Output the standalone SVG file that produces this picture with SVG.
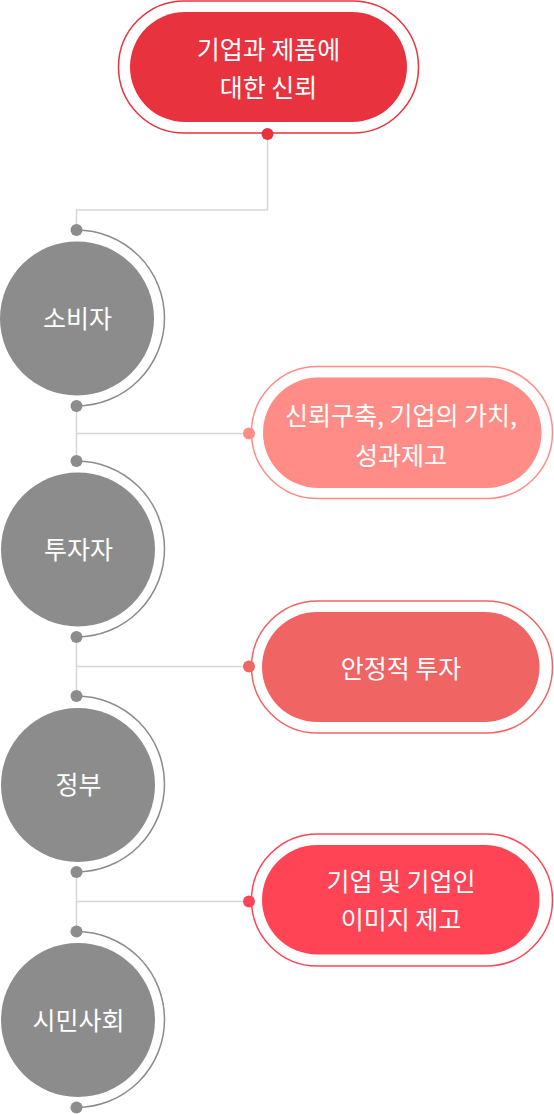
<svg xmlns="http://www.w3.org/2000/svg" width="554" height="1114" viewBox="0 0 554 1114">
<style>
text{font-family:"Noto Sans CJK KR","Noto Sans",sans-serif;font-size:25px;fill:#fff;text-anchor:middle}
.conn{fill:none;stroke:#d6d6d6;stroke-width:1.5}
.arc{fill:none;stroke:#8c8c8c;stroke-width:1.5}
.gd{fill:#8c8c8c}
.gc{fill:#8c8c8c}
</style>
<rect width="554" height="1114" fill="#fff"/>
<g id="connectors">
<polyline class="conn" points="267.5,134 267.5,210 76.5,210 76.5,230"/>
<line class="conn" x1="76.5" y1="406" x2="76.5" y2="461"/>
<line class="conn" x1="76.5" y1="433.5" x2="249" y2="433.5"/>
<line class="conn" x1="76.5" y1="637" x2="76.5" y2="696"/>
<line class="conn" x1="76.5" y1="666.5" x2="249" y2="666.5"/>
<line class="conn" x1="76.5" y1="872" x2="76.5" y2="931.5"/>
<line class="conn" x1="76.5" y1="901.5" x2="249" y2="901.5"/>
</g>
<g id="top">
<rect x="118.5" y="1" width="300" height="132" rx="66" fill="none" stroke="#e8333f" stroke-width="1.5"/>
<rect x="130" y="12" width="277" height="110" rx="55" fill="#e8333f"/>
<circle cx="267.5" cy="134" r="6" fill="#e8333f"/>
<text x="268.5" y="58.5">기업과 제품에</text>
<text x="268.5" y="97">대한 신뢰</text>
</g>
<g id="consumer">
<circle class="gc" cx="77" cy="318.5" r="77"/>
<path class="arc" d="M76.5,230 A88,88 0 0 1 76.5,406"/>
<circle class="gd" cx="76.5" cy="230" r="6"/>
<circle class="gd" cx="76.5" cy="406" r="6"/>
<text x="77.5" y="327.5">소비자</text>
</g>
<g id="investor">
<circle class="gc" cx="78" cy="549.5" r="77"/>
<path class="arc" d="M76.5,461 A88,88 0 0 1 76.5,637"/>
<circle class="gd" cx="76.5" cy="461" r="6"/>
<circle class="gd" cx="76.5" cy="637" r="6"/>
<text x="78.5" y="559">투자자</text>
</g>
<g id="government">
<circle class="gc" cx="78" cy="785" r="77"/>
<path class="arc" d="M76.5,696 A88,88 0 0 1 76.5,872"/>
<circle class="gd" cx="76.5" cy="696" r="6"/>
<circle class="gd" cx="76.5" cy="872" r="6"/>
<text x="78.5" y="794">정부</text>
</g>
<g id="civil">
<circle class="gc" cx="78" cy="1020" r="77"/>
<path class="arc" d="M76.5,931.5 A88,88 0 0 1 76.5,1107.5"/>
<circle class="gd" cx="76.5" cy="931.5" r="6"/>
<circle class="gd" cx="76.5" cy="1107.5" r="6"/>
<text x="78.5" y="1029.5">시민사회</text>
</g>
<g id="trust">
<rect x="251.5" y="366.5" width="301" height="132" rx="66" fill="none" stroke="#ff8c86" stroke-width="1.5"/>
<rect x="263" y="377.5" width="278.5" height="110.5" rx="55" fill="#ff8c86"/>
<circle cx="249" cy="433.5" r="6" fill="#ff8c86"/>
<text x="401" y="425">신뢰구축, 기업의 가치,</text>
<text x="401" y="464.5">성과제고</text>
</g>
<g id="investment">
<rect x="251.5" y="601" width="301" height="132" rx="66" fill="none" stroke="#f06464" stroke-width="1.5"/>
<rect x="262" y="612" width="277.5" height="110" rx="55" fill="#f06464"/>
<circle cx="249" cy="666.5" r="6" fill="#f06464"/>
<text x="401" y="677.5">안정적 투자</text>
</g>
<g id="image">
<rect x="251.5" y="834" width="301" height="132" rx="66" fill="none" stroke="#ff4455" stroke-width="1.5"/>
<rect x="262" y="845" width="277.5" height="109.5" rx="55" fill="#ff4455"/>
<circle cx="249" cy="901.5" r="6" fill="#ff4455"/>
<text x="401" y="891">기업 및 기업인</text>
<text x="401" y="929">이미지 제고</text>
</g>
</svg>
